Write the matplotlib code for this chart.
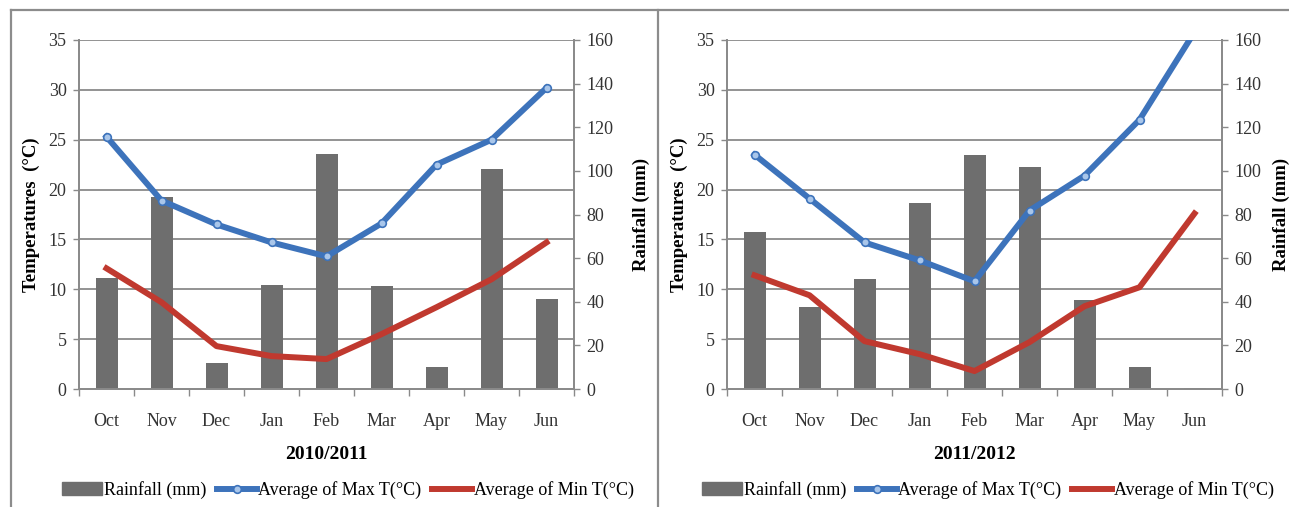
import numpy as np
import matplotlib.pyplot as plt
from matplotlib.patches import Patch
from matplotlib.lines import Line2D

plt.rcParams['font.family'] = ['Liberation Serif', 'DejaVu Serif']

months = ["Oct", "Nov", "Dec", "Jan", "Feb", "Mar", "Apr", "May", "Jun"]

# 2010/2011
rain_1011 = [50.8, 87.8, 12.0, 47.5, 107.8, 47.0, 10.0, 101.0, 41.3]
tmax_1011 = [25.3, 18.9, 16.5, 14.7, 13.3, 16.6, 22.5, 25.0, 30.2]
tmin_1011 = [12.1, 8.7, 4.3, 3.3, 3.0, 5.5, 8.2, 11.0, 14.7]

# 2011/2012
rain_1112 = [72.0, 37.6, 50.6, 85.4, 107.4, 101.8, 40.6, 10.0, 0.6]
tmax_1112 = [23.5, 19.1, 14.7, 12.9, 10.8, 17.9, 21.4, 27.0, 35.8]
tmin_1112 = [11.4, 9.4, 4.8, 3.5, 1.8, 4.7, 8.3, 10.2, 17.6]

seasons = ["2010/2011", "2011/2012"]

BAR_C = "#6e6e6e"
BLUE = "#3d73bb"
RED = "#c0392f"
GRID_C = "#8a8a8a"
TXT = "#333333"

fig = plt.figure(figsize=(12.89, 5.07), dpi=100)
W, H = 1289, 507


def draw_panel(x0, rain, tmax, tmin, season, leg_cx, rpad):
    ax2 = fig.add_axes([x0 / W, 1 - 389 / H, 495 / W, 349 / H])
    ax = ax2.twinx()
    ax.yaxis.tick_left()
    ax.yaxis.set_label_position("left")
    ax2.yaxis.tick_right()
    ax2.yaxis.set_label_position("right")
    ax.set_zorder(ax2.get_zorder() + 1)
    ax.patch.set_visible(False)

    x = np.arange(len(months))
    ax2.bar(x, rain, width=0.4, color=BAR_C, zorder=2)
    ax2.set_ylim(0, 160)
    ax2.set_yticks(np.arange(0, 161, 20))
    # gridlines follow the temperature scale (every 5 deg = 160/7 mm)
    ax2.set_yticks(np.arange(1, 8) * 160 / 7, minor=True)
    ax2.grid(which="minor", axis="y", color=GRID_C, lw=1.3, zorder=1)
    ax2.tick_params(axis="y", which="minor", length=0)
    ax2.tick_params(axis="y", which="major", length=4, width=1, color=GRID_C,
                    labelsize=13, labelcolor=TXT, pad=5)

    ax.plot(x, tmax, color=BLUE, lw=4.3, marker="o", ms=5.5,
            mfc="#a9c6ea", mec=BLUE, mew=1.2, solid_joinstyle="round")
    ax.plot(x, tmin, color=RED, lw=4.3, solid_joinstyle="round")
    ax.set_ylim(0, 35)
    ax.set_yticks(np.arange(0, 36, 5))
    ax.tick_params(axis="y", length=4, width=1, color=GRID_C,
                   labelsize=13, labelcolor=TXT, pad=5)

    ax2.set_xlim(-0.5, len(months) - 0.5)
    ax2.set_xticks(x)
    ax2.set_xticklabels(months)
    ax2.set_xticks(np.arange(-0.5, len(months)), minor=True)
    ax2.tick_params(axis="x", which="major", length=0, labelsize=13,
                    labelcolor=TXT, pad=17)
    ax2.tick_params(axis="x", which="minor", length=5, width=1, color=GRID_C)
    ax.tick_params(axis="x", which="both", length=0, labelbottom=False)

    for a in (ax, ax2):
        a.spines["top"].set_visible(False)
        for s in ("left", "right", "bottom"):
            a.spines[s].set_color(GRID_C)
            a.spines[s].set_linewidth(1.3)
    ax2.axhline(160, color=GRID_C, lw=1.3, zorder=1)

    ax.set_ylabel("Temperatures  (°C)", fontsize=13.5, fontweight="bold",
                  labelpad=6)
    ax2.set_ylabel("Rainfall (mm)", fontsize=13.5, fontweight="bold",
                   labelpad=rpad)
    ax2.set_xlabel(season, fontsize=14, fontweight="bold", labelpad=12)

    handles = [
        Patch(color=BAR_C),
        Line2D([], [], color=BLUE, lw=4.3, marker="o", ms=5.5,
               mfc="#a9c6ea", mec=BLUE, mew=1.2),
        Line2D([], [], color=RED, lw=4.3),
    ]
    labels = ["Rainfall (mm)", "Average of Max T(°C)", "Average of Min T(°C)"]
    fig.legend(handles, labels, loc="center", ncol=3, frameon=False,
               bbox_to_anchor=(leg_cx / W, 1 - 490 / H), fontsize=13,
               handlelength=2.2, handletextpad=0.1, columnspacing=0.6,
               borderpad=0)
    return ax, ax2


draw_panel(79, rain_1011, tmax_1011, tmin_1011, seasons[0], 348, 14)
draw_panel(727, rain_1112, tmax_1112, tmin_1112, seasons[1], 988, 8)

# outer frame and divider between the two charts
frame_kw = dict(color="#8c8c8c", lw=1.6, transform=fig.transFigure)
fig.add_artist(Line2D([11 / W, 11 / W], [0, 1 - 10 / H], **frame_kw))
fig.add_artist(Line2D([11 / W, 1], [1 - 10 / H, 1 - 10 / H], **frame_kw))
fig.add_artist(Line2D([658 / W, 658 / W], [0, 1 - 10 / H], **frame_kw))

fig.savefig("out.png", dpi=100)
